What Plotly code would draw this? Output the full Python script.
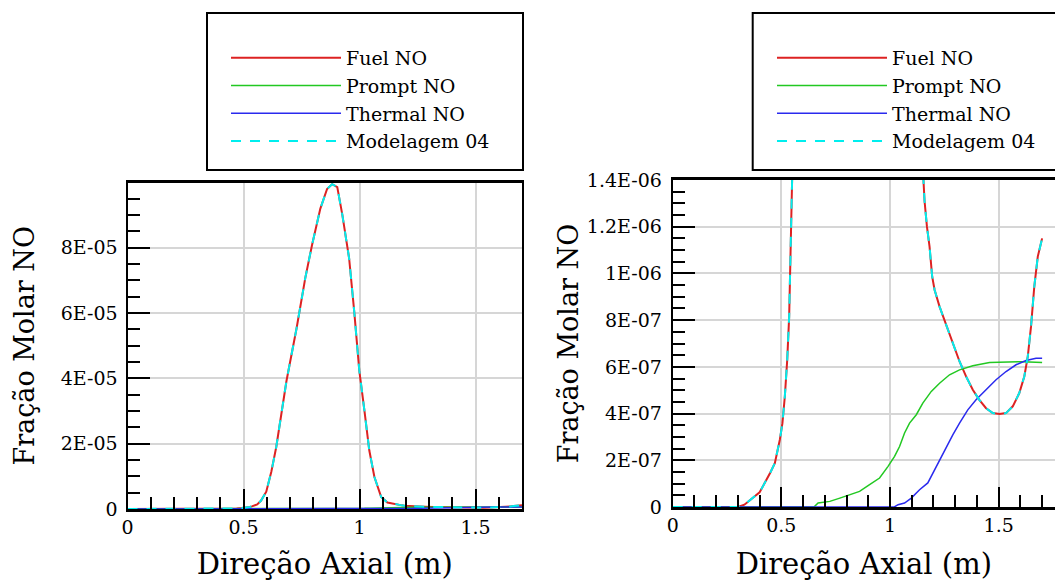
import plotly.graph_objects as go

# ---------------- data ----------------
fuel_x = [0.0, 0.30, 0.33, 0.348, 0.40, 0.447, 0.47, 0.493, 0.505, 0.516, 0.527, 0.536,
          0.542, 0.548, 0.554, 0.559, 0.575, 0.598, 0.62, 0.641, 0.685, 0.729, 0.766,
          0.795, 0.831, 0.86, 0.882, 0.904, 0.926, 0.955, 0.977, 0.999, 1.021, 1.042,
          1.064, 1.093, 1.12, 1.155, 1.159, 1.17, 1.182, 1.194, 1.205, 1.228, 1.251,
          1.282, 1.32, 1.35, 1.381, 1.411, 1.442, 1.473, 1.504, 1.534, 1.565, 1.595,
          1.618, 1.634, 1.649, 1.664, 1.68, 1.70]
fuel_no = [0.0, 0.0, 1.0e-8, 2.4e-8, 6.3e-8, 1.43e-7, 1.88e-7, 2.88e-7, 3.59e-7, 4.73e-7,
           6.30e-7, 8.15e-7, 9.72e-7, 1.072e-6, 1.229e-6, 1.40e-6, 2.5e-6, 5.3e-6,
           1.15e-5, 1.9e-5, 3.92e-5, 5.55e-5, 7.07e-5, 8.08e-5, 9.2e-5, 9.8e-5, 9.95e-5,
           9.86e-5, 9.0e-5, 7.68e-5, 6.05e-5, 4.23e-5, 3.01e-5, 1.79e-5, 9.8e-6, 3.7e-6,
           2.0e-6, 1.40e-6, 1.31e-6, 1.20e-6, 1.115e-6, 9.87e-7, 9.30e-7, 8.58e-7,
           8.01e-7, 7.16e-7, 6.23e-7, 5.59e-7, 5.02e-7, 4.59e-7, 4.23e-7, 4.02e-7,
           3.98e-7, 4.02e-7, 4.31e-7, 4.88e-7, 5.59e-7, 6.44e-7, 7.73e-7, 9.44e-7,
           1.072e-6, 1.15e-6]

# Modelagem 04 coincides with the Fuel NO curve in the reference
model_x = [0.0, 0.30, 0.33, 0.348, 0.40, 0.447, 0.47, 0.493, 0.505, 0.516, 0.527, 0.536,
           0.542, 0.548, 0.554, 0.559, 0.575, 0.598, 0.62, 0.641, 0.685, 0.729, 0.766,
           0.795, 0.831, 0.86, 0.882, 0.904, 0.926, 0.955, 0.977, 0.999, 1.021, 1.042,
           1.064, 1.093, 1.12, 1.155, 1.159, 1.17, 1.182, 1.194, 1.205, 1.228, 1.251,
           1.282, 1.32, 1.35, 1.381, 1.411, 1.442, 1.473, 1.504, 1.534, 1.565, 1.595,
           1.618, 1.634, 1.649, 1.664, 1.68, 1.70]
modelagem_04 = [0.0, 0.0, 1.0e-8, 2.4e-8, 6.3e-8, 1.43e-7, 1.88e-7, 2.88e-7, 3.59e-7, 4.73e-7,
                6.30e-7, 8.15e-7, 9.72e-7, 1.072e-6, 1.229e-6, 1.40e-6, 2.5e-6, 5.3e-6,
                1.15e-5, 1.9e-5, 3.92e-5, 5.55e-5, 7.07e-5, 8.08e-5, 9.2e-5, 9.8e-5, 9.95e-5,
                9.86e-5, 9.0e-5, 7.68e-5, 6.05e-5, 4.23e-5, 3.01e-5, 1.79e-5, 9.8e-6, 3.7e-6,
                2.0e-6, 1.40e-6, 1.31e-6, 1.20e-6, 1.115e-6, 9.87e-7, 9.30e-7, 8.58e-7,
                8.01e-7, 7.16e-7, 6.23e-7, 5.59e-7, 5.02e-7, 4.59e-7, 4.23e-7, 4.02e-7,
                3.98e-7, 4.02e-7, 4.31e-7, 4.88e-7, 5.59e-7, 6.44e-7, 7.73e-7, 9.44e-7,
                1.072e-6, 1.15e-6]

prompt_x = [0.0, 0.65, 0.669, 0.723, 0.769, 0.815, 0.860, 0.906, 0.952, 0.991, 1.021, 1.044,
            1.067, 1.090, 1.121, 1.151, 1.190, 1.228, 1.274, 1.320, 1.381, 1.458, 1.534,
            1.611, 1.70]
prompt_no = [0.0, 0.0, 1.7e-8, 2.4e-8, 3.8e-8, 5.3e-8, 6.7e-8, 9.6e-8, 1.24e-7, 1.74e-7,
             2.17e-7, 2.59e-7, 3.17e-7, 3.59e-7, 3.95e-7, 4.45e-7, 4.95e-7, 5.30e-7,
             5.66e-7, 5.87e-7, 6.05e-7, 6.19e-7, 6.22e-7, 6.22e-7, 6.19e-7]

thermal_x = [0.0, 1.02, 1.037, 1.067, 1.098, 1.136, 1.174, 1.197, 1.228, 1.259, 1.289, 1.320,
             1.358, 1.396, 1.442, 1.488, 1.534, 1.580, 1.626, 1.672, 1.70]
thermal_no = [0.0, 0.0, 1.0e-8, 1.7e-8, 3.8e-8, 7.4e-8, 1.03e-7, 1.45e-7, 2.02e-7, 2.59e-7,
              3.09e-7, 3.59e-7, 4.16e-7, 4.59e-7, 5.02e-7, 5.45e-7, 5.80e-7, 6.09e-7,
              6.27e-7, 6.37e-7, 6.37e-7]

series_names = ["Fuel NO", "Prompt NO", "Thermal NO", "Modelagem 04"]

x_tick_vals = [0, 0.5, 1, 1.5]
x_tick_text = ["0", "0.5", "1", "1.5"]
left_y_tick_vals = [0, 2e-5, 4e-5, 6e-5, 8e-5]
left_y_tick_text = ["0", "2E-05", "4E-05", "6E-05", "8E-05"]
right_y_tick_vals = [0, 2e-7, 4e-7, 6e-7, 8e-7, 1e-6, 1.2e-6, 1.4e-6]
right_y_tick_text = ["0", "2E-07", "4E-07", "6E-07", "8E-07", "1E-06", "1.2E-06", "1.4E-06"]

x_title = "Direção Axial (m)"
y_title = "Fração Molar NO"

# ---------------- styles ----------------
W, H = 1055, 581
FONT = "DejaVu Serif"
colors = ["#dd2222", "#22c822", "#2a2aee", "#00eeee"]
widths = [2, 1.5, 1.5, 2]
dashes = ["solid", "solid", "solid", "10px,9px"]

fig = go.Figure()
series = [(fuel_x, fuel_no), (prompt_x, prompt_no), (thermal_x, thermal_no), (model_x, modelagem_04)]
for panel, (xa, ya, lg) in enumerate([("x", "y", "legend"), ("x2", "y2", "legend2")]):
    for i, (sx, sy) in enumerate(series):
        fig.add_trace(go.Scatter(
            x=sx, y=sy, mode="lines", name=series_names[i],
            line=dict(color=colors[i], width=widths[i], dash=dashes[i]),
            xaxis=xa, yaxis=ya, legend=lg, showlegend=True, hoverinfo="skip"))


def px_x(p):
    return p / W


def px_y(p):
    return 1 - p / H


common_axis = dict(
    automargin=False,
    showline=True, linecolor="black", ticks="inside", tickcolor="black",
    showgrid=True, gridcolor="#d6d6d6", gridwidth=2, zeroline=False,
    tickfont=dict(family=FONT, size=19, color="black"),
)

xaxis_common = dict(common_axis, tickmode="array", tickvals=x_tick_vals, ticktext=x_tick_text,
                    ticklen=20, tickwidth=2, linewidth=3, ticklabelstandoff=-1,
                    minor=dict(tickmode="linear", tick0=0, dtick=0.1, ticks="inside",
                               ticklen=12, tickwidth=2, tickcolor="black", showgrid=False),
                    title=dict(text=x_title, standoff=30,
                               font=dict(family=FONT, size=29, color="black")))

y_title_font = dict(family=FONT, size=27, color="black")

fig.update_layout(
    template="none",
    width=W, height=H,
    margin=dict(l=0, r=0, t=0, b=0, autoexpand=False),
    paper_bgcolor="white", plot_bgcolor="white",
    font=dict(family=FONT, color="black"),
    xaxis=dict(xaxis_common, domain=[px_x(127.5), px_x(522)], range=[0, 1.7], anchor="y",
               mirror=True),
    yaxis=dict(common_axis, domain=[px_y(509), px_y(182.5)], range=[0, 1e-4], anchor="x",
               tickmode="array", tickvals=left_y_tick_vals, ticktext=left_y_tick_text,
               ticklen=22, tickwidth=2, linewidth=2, mirror=True, ticklabelstandoff=4,
               minor=dict(tickmode="linear", tick0=0, dtick=5e-6, ticks="inside",
                          ticklen=12, tickwidth=2, tickcolor="black", showgrid=False),
               title=dict(text=y_title, standoff=18, font=y_title_font)),
    xaxis2=dict(xaxis_common, domain=[px_x(672.7), 1.0], range=[0, 1.7593], anchor="y2",
                mirror=True),
    yaxis2=dict(common_axis, domain=[px_y(507), px_y(180)], range=[0, 1.4e-6], anchor="x2",
                tickmode="array", tickvals=right_y_tick_vals, ticktext=right_y_tick_text,
                ticklen=22, tickwidth=2, linewidth=2, mirror=False, ticklabelstandoff=5,
                minor=dict(tickmode="linear", tick0=0, dtick=5e-8, ticks="inside",
                           ticklen=12, tickwidth=2, tickcolor="black", showgrid=False),
                title=dict(text=y_title, standoff=0, font=y_title_font)),
    legend=dict(x=px_x(226), y=px_y(39), xanchor="left", yanchor="top",
                bgcolor="rgba(0,0,0,0)", borderwidth=0, itemwidth=110,
                font=dict(family=FONT, size=19, color="black"), tracegroupgap=0),
    legend2=dict(x=px_x(772), y=px_y(39), xanchor="left", yanchor="top",
                 bgcolor="rgba(0,0,0,0)", borderwidth=0, itemwidth=110,
                 font=dict(family=FONT, size=19, color="black"), tracegroupgap=0),
    shapes=[
        dict(type="rect", xref="paper", yref="paper", x0=px_x(207), x1=px_x(523),
             y0=px_y(170), y1=px_y(13), line=dict(color="black", width=2)),
        dict(type="rect", xref="paper", yref="paper", x0=px_x(752.7), x1=1.03,
             y0=px_y(170), y1=px_y(13), line=dict(color="black", width=2)),
    ],
)

fig.write_html("out.html", config={"displayModeBar": False},
               post_script="document.body.style.margin='0';document.body.style.overflow='hidden';")
